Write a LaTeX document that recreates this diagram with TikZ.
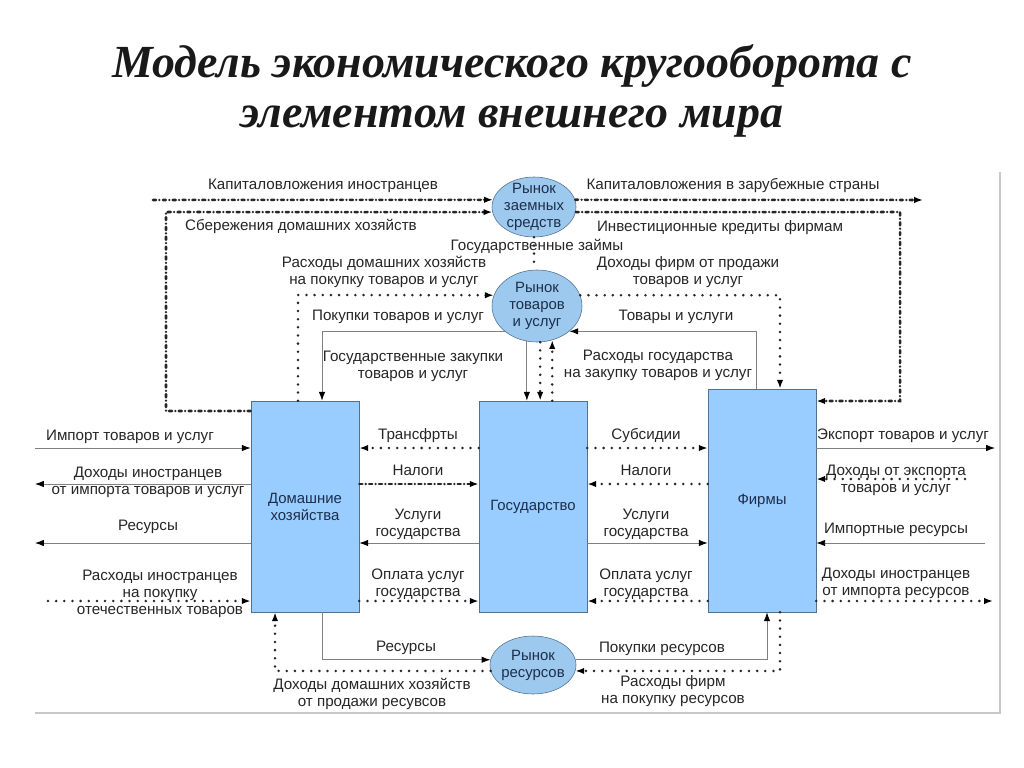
\documentclass[tikz,border=0pt]{standalone}
\usepackage{fontspec}
\setmainfont{Liberation Sans}
\newfontfamily\titlefont{Liberation Serif}
\usetikzlibrary{arrows.meta,shapes.geometric}
\definecolor{boxblue}{HTML}{99CCFF}
\definecolor{ovalblue}{HTML}{9DC9EE}
\definecolor{boxline}{HTML}{50708F}
\definecolor{boxtext}{HTML}{1C2E4A}
\definecolor{txt}{HTML}{262626}
\definecolor{flowgray}{HTML}{808080}
\definecolor{framegray}{HTML}{C8C8C8}
\tikzset{
  sector/.style={draw=boxline, fill=boxblue, minimum width=27mm, text=boxtext,
    align=center, font=\fontsize{10.6}{12.1}\selectfont},
  market/.style={ellipse, draw=boxline, fill=ovalblue, inner sep=0pt},
  mtext/.style={text=boxtext, align=center, inner sep=0pt, font=\fontsize{10.6}{12.1}\selectfont},
  lbl/.style={text=txt, align=center, inner sep=0pt, font=\fontsize{10.8}{12.1}\selectfont},
  goodsflow/.style={draw=flowgray, line width=0.6pt},
  money/.style={draw=black!85, line width=2pt, dash pattern=on 0pt off 5.8pt, line cap=round},
  capital/.style={draw=black!85, line width=1.8pt, dash pattern=on 2.2pt off 2.4pt on 0pt off 2.4pt, line cap=round},
  arr/.style={-{Latex[length=2.2mm,width=1.6mm,color=black]}}
}
\begin{document}
\begin{tikzpicture}[x=0.25mm, y=-0.25mm]
  \useasboundingbox (0,0) rectangle (1024,767);
  \node[text=black!90, align=center, font=\titlefont\bfseries\itshape\fontsize{32.7}{35.6}\selectfont] (title) at (512,91)
    {Модель экономического кругооборота с\\элементом внешнего мира};
  \draw[framegray, line width=0.8pt] (35,713) -- (1000,713) -- (1000,172);

  \node[sector, minimum height=52.75mm] (hh) at (305,506.5) {Домашние\\хозяйства};
  \node[sector, minimum height=52.75mm] (gov) at (533,506.5) {Государство};
  \node[sector, minimum height=55.75mm] (firms) at (762,500.5) {Фирмы};
  \node[market, minimum width=21mm, minimum height=15mm] (loan) at (534,207) {};
  \node[mtext] (loantxt) at (loan) {Рынок\\заемных\\средств};
  \node[market, minimum width=22.5mm, minimum height=18mm] (goods) at (537,306) {};
  \node[mtext] (goodstxt) at (goods) {Рынок\\товаров\\и услуг};
  \node[market, minimum width=21.5mm, minimum height=14.5mm] (res) at (533,665) {};
  \node[mtext] (restxt) at (res) {Рынок\\ресурсов};

  \coordinate (capin) at (153,200);
  \coordinate (capout) at (923,200);
  \coordinate (impin) at (35,448);
  \coordinate (forin) at (35,484);
  \coordinate (resout) at (35,543);
  \coordinate (forexp) at (48,601);
  \coordinate (expout) at (995,448);
  \coordinate (expin) at (965,479);
  \coordinate (impres) at (985,543);
  \coordinate (forres) at (993,601);

  \draw[capital, arr] (capin) -- (loan.170);
  \draw[capital, arr] (loan.10) -- (capout);
  \draw[capital, arr] (hh.west |- 0,411) -- (166,411) -- (166,212) -- (loan.187);
  \draw[capital, arr] (loan.353) -- (900,212) -- (900,401) -- (firms.east |- 0,401);
  \draw[money] (loan.south) -- (loan.south |- goods.north);
  \draw[money, arr] (298,0 |- hh.north) -- (298,295) -- (goods.166);
  \draw[goodsflow, arr] (goods.218) -- (goods.218 -| 322,0) -- (322,0 |- hh.north);
  \draw[money, arr] (goods.14) -- (goods.14 -| 780,0) -- (780,0 |- firms.north);
  \draw[goodsflow, arr] (756,0 |- firms.north) -- (756,0 |- goods.322) -- (goods.322);
  \draw[goodsflow, arr] (goods.254) -- (goods.254 |- gov.north);
  \draw[money, arr] (goods.275) -- (goods.275 |- gov.north);
  \draw[money, arr] (goods.294 |- gov.north) -- (goods.294);

  \draw[goodsflow, arr] (impin) -- (hh.west |- impin);
  \draw[goodsflow, arr] (hh.west |- forin) -- (forin);
  \draw[goodsflow, arr] (hh.west |- resout) -- (resout);
  \draw[money, arr] (forexp) -- (hh.west |- forexp);
  \draw[money, arr] (gov.west |- 0,448) -- (hh.east |- 0,448);
  \draw[capital, arr] (hh.east |- 0,484) -- (gov.west |- 0,484);
  \draw[goodsflow, arr] (gov.west |- 0,543) -- (hh.east |- 0,543);
  \draw[money, arr] (hh.east |- 0,601) -- (gov.west |- 0,601);
  \draw[money, arr] (gov.east |- 0,448) -- (firms.west |- 0,448);
  \draw[money, arr] (firms.west |- 0,484) -- (gov.east |- 0,484);
  \draw[goodsflow, arr] (gov.east |- 0,543) -- (firms.west |- 0,543);
  \draw[money, arr] (firms.west |- 0,601) -- (gov.east |- 0,601);
  \draw[goodsflow, arr] (firms.east |- expout) -- (expout);
  \draw[money, arr] (expin) -- (firms.east |- expin);
  \draw[goodsflow, arr] (impres) -- (firms.east |- impres);
  \draw[money, arr] (firms.east |- forres) -- (forres);

  \draw[goodsflow, arr] (322,0 |- hh.south) -- (322,0 |- res.173) -- (res.173);
  \draw[money, arr] (res.188) -- (res.188 -| 275,0) -- (275,0 |- hh.south);
  \draw[goodsflow, arr] (res.7) -- (res.7 -| 767,0) -- (767,0 |- firms.south);
  \draw[money, arr] (780,0 |- firms.south) -- (780,0 |- res.352) -- (res.352);

  \node[lbl] (l1) at (323,186) {Капиталовложения иностранцев};
  \node[lbl] (l2) at (733,186) {Капиталовложения в зарубежные страны};
  \node[lbl] (l3) at (301,226) {Сбережения домашних хозяйств};
  \node[lbl] (l4) at (720,228) {Инвестиционные кредиты фирмам};
  \node[lbl] (l5) at (537,246) {Государственные займы};
  \node[lbl] (l6) at (384,272) {Расходы домашних хозяйств\\на покупку товаров и услуг};
  \node[lbl] (l7) at (688,272) {Доходы фирм от продажи\\товаров и услуг};
  \node[lbl] (l8) at (398,317) {Покупки товаров и услуг};
  \node[lbl] (l9) at (676,317) {Товары и услуги};
  \node[lbl] (l10) at (413,366) {Государственные закупки\\товаров и услуг};
  \node[lbl] (l11) at (658,365) {Расходы государства\\на закупку товаров и услуг};
  \node[lbl] (l12) at (130,437) {Импорт товаров и услуг};
  \node[lbl] (l13) at (148,482) {Доходы иностранцев\\от импорта товаров и услуг};
  \node[lbl] (l14) at (148,527) {Ресурсы};
  \node[lbl] (l15) at (160,594) {Расходы иностранцев\\на покупку\\отечественных товаров};
  \node[lbl] (l16) at (418,436) {Трансфрты};
  \node[lbl] (l17) at (418,470) {Налоги};
  \node[lbl] (l18) at (418,524) {Услуги\\государства};
  \node[lbl] (l19) at (418,584) {Оплата услуг\\государства};
  \node[lbl] (l20) at (646,436) {Субсидии};
  \node[lbl] (l21) at (646,470) {Налоги};
  \node[lbl] (l22) at (646,524) {Услуги\\государства};
  \node[lbl] (l23) at (646,584) {Оплата услуг\\государства};
  \node[lbl] (l24) at (903,436) {Экспорт товаров и услуг};
  \node[lbl] (l25) at (896,480) {Доходы от экспорта\\товаров и услуг};
  \node[lbl] (l26) at (896,530) {Импортные ресурсы};
  \node[lbl] (l27) at (896,583) {Доходы иностранцев\\от импорта ресурсов};
  \node[lbl] (l28) at (406,648) {Ресурсы};
  \node[lbl] (l29) at (372,694) {Доходы домашних хозяйств\\от продажи ресувсов};
  \node[lbl] (l30) at (662,649) {Покупки ресурсов};
  \node[lbl] (l31) at (673,691) {Расходы фирм\\на покупку ресурсов};
\end{tikzpicture}
\end{document}
